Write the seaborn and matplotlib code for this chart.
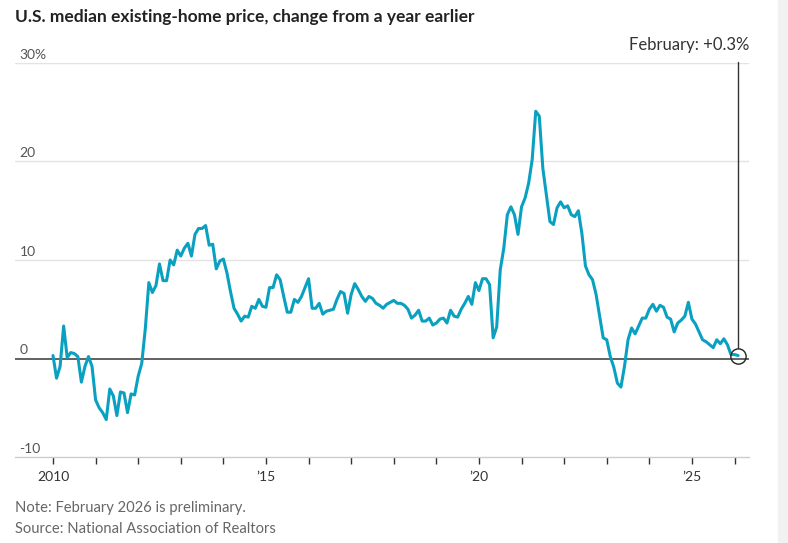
import numpy as np
import pandas as pd
from matplotlib import pyplot as plt
from matplotlib import transforms
from matplotlib.patches import Rectangle
import seaborn as sns

# variazione annua del prezzo mediano, mensile, gen 2010 - feb 2026
variazione = [
    0.3, -2.0, -0.8, 3.3, 0.1, 0.6, 0.5, 0.2, -2.4, -0.8, 0.2, -0.8,       # 2010
    -4.2, -5.0, -5.5, -6.2, -3.1, -3.8, -5.8, -3.4, -3.5, -5.5, -3.6, -3.7,  # 2011
    -1.8, -0.5, 3.0, 7.7, 6.7, 7.4, 9.6, 7.9, 7.9, 10.0, 9.5, 11.0,          # 2012
    10.4, 11.2, 11.7, 10.4, 12.6, 13.2, 13.2, 13.5, 11.5, 11.6, 9.1, 9.9,    # 2013
    10.1, 8.7, 6.8, 5.1, 4.5, 3.8, 4.3, 4.2, 5.3, 5.1, 6.0, 5.3,             # 2014
    5.2, 7.2, 7.2, 8.5, 8.0, 6.3, 4.7, 4.7, 6.0, 5.7, 6.3, 7.2,              # 2015
    8.1, 5.1, 5.1, 5.6, 4.5, 4.8, 4.9, 5.0, 6.0, 6.8, 6.6, 4.6,              # 2016
    6.5, 7.6, 7.0, 6.3, 5.8, 6.3, 6.1, 5.6, 5.4, 5.1, 5.5, 5.7,              # 2017
    5.9, 5.6, 5.6, 5.4, 5.0, 4.1, 4.4, 4.9, 3.8, 3.8, 4.1, 3.4,              # 2018
    3.6, 4.0, 4.1, 3.6, 4.9, 4.3, 4.2, 5.0, 5.6, 6.3, 5.5, 7.7,              # 2019
    6.9, 8.1, 8.1, 7.5, 2.1, 3.2, 9.0, 11.2, 14.6, 15.4, 14.6, 12.6,         # 2020
    15.4, 16.3, 17.8, 20.2, 25.1, 24.6, 19.3, 16.6, 13.9, 13.6, 15.3, 15.9,  # 2021
    15.3, 15.5, 14.6, 14.4, 15.0, 12.7, 9.4, 8.5, 8.0, 6.5, 4.3, 2.1,        # 2022
    1.9, 0.2, -0.9, -2.5, -2.9, -0.8, 1.9, 3.1, 2.5, 3.3, 4.1, 4.1,          # 2023
    5.0, 5.5, 4.8, 5.4, 5.2, 4.2, 4.0, 2.7, 3.6, 3.9, 4.3, 5.7,              # 2024
    4.0, 3.5, 2.7, 1.9, 1.7, 1.4, 1.1, 1.9, 1.5, 2.0, 1.4, 0.4,              # 2025
    0.4, 0.3,                                                                # 2026
]
anni_tick = list(range(2010, 2027))
etichette_x = {2010: "2010", 2015: "\u201915", 2020: "\u201920", 2025: "\u201925"}
valori_y = [30, 20, 10, 0, -10]
etichette_y = ["30%", "20", "10", "0", "-10"]

df = pd.DataFrame({"anno": 2010 + np.arange(len(variazione)) / 12,
                   "variazione": variazione})

sns.set_theme(style="white")
plt.rcParams["font.family"] = ["Lato", "DejaVu Sans"]

fig = plt.figure(figsize=(7.88, 5.43), dpi=100)
ax = fig.add_axes([15 / 788, 86 / 543, 734 / 788, 394 / 543])

# griglia e linea dello zero
for v in valori_y[:-1]:
    if v != 0:
        ax.axhline(v, color="#e3e3e3", lw=1, zorder=0)
ax.axhline(0, color="#555555", lw=1.3, zorder=1)

sns.lineplot(data=df, x="anno", y="variazione", color="#0aa1c1", lw=2.2, ax=ax, zorder=3)

ax.set_xlim(2009.108, 2026.34)
ax.set_ylim(-10, 30)

for s in ["top", "right", "left"]:
    ax.spines[s].set_visible(False)
ax.spines["bottom"].set_color("#cccccc")
ax.spines["bottom"].set_linewidth(1)

ax.set_xticks(anni_tick)
ax.set_xticklabels([etichette_x.get(a, "") for a in anni_tick], fontsize=10, color="#333333")
ax.tick_params(axis="x", length=5, width=1, color="#333333", direction="out", pad=5, bottom=True)
ax.set_yticks([])
ax.set_xlabel("")
ax.set_ylabel("")

# etichette asse y sopra le linee
tr = transforms.blended_transform_factory(ax.transAxes, ax.transData)
for v, lab in zip(valori_y, etichette_y):
    ax.text(0.006, v + 0.25, lab, transform=tr, ha="left", va="bottom",
            fontsize=10, color="#555555")

# annotazione ultimo valore
x_last = df["anno"].iloc[-1]
y_last = df["variazione"].iloc[-1]
ax.plot(x_last, y_last, "o", mfc="none", mec="#222222", ms=11, mew=1, zorder=4, clip_on=False)
ax.plot([x_last, x_last], [y_last + 0.78, 30.1], color="#333333", lw=1, zorder=4, clip_on=False)
ax.text(1.0, 31.8, "February: +0.3%", transform=tr, ha="right", va="center",
        fontsize=12, color="#333333")

fig.text(15 / 788, 1 - 17 / 543, "U.S. median existing-home price, change from a year earlier",
         ha="left", va="center", fontsize=12.5, fontweight="bold", color="#222222")
fig.text(15 / 788, 1 - 508 / 543, "Note: February 2026 is preliminary.",
         ha="left", va="center", fontsize=10.6, color="#666666")
fig.text(15 / 788, 1 - 529 / 543, "Source: National Association of Realtors",
         ha="left", va="center", fontsize=10.6, color="#666666")

# barra grigia a destra
fig.patches.append(Rectangle((778 / 788, 0), 10 / 788, 1, transform=fig.transFigure,
                             color="#f1f1f1", zorder=0))

fig.savefig("out.png", dpi=100)
